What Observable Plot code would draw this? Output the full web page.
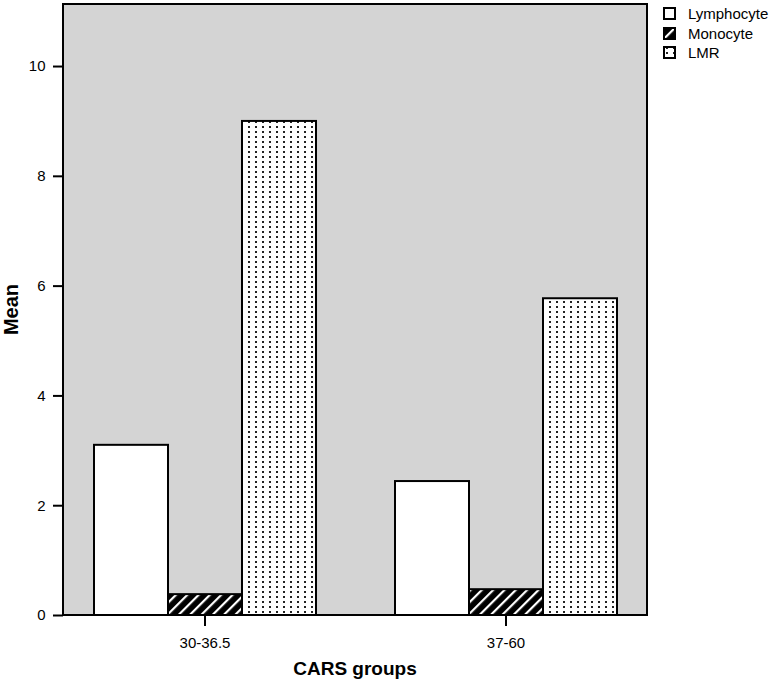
<!DOCTYPE html>
<html>
<head>
<meta charset="utf-8">
<script src="https://cdn.jsdelivr.net/npm/d3@7"></script>
<script src="https://cdn.jsdelivr.net/npm/@observablehq/plot@0.6"></script>
<style>
  html, body { margin: 0; padding: 0; background: #fff; }
  #wrap { position: relative; width: 774px; height: 684px; font-family: Arial, "Liberation Sans", sans-serif; }
  #legend { position: absolute; left: 663px; top: 4px; font-size: 15px; color: #000; }
  #legend .row { display: flex; align-items: center; height: 19.5px; }
  #legend svg { display: block; margin-right: 12px; }
</style>
</head>
<body>
<div id="wrap"><div id="legend"></div></div>
<script>
// ---- data ----
const groups = ["30-36.5", "37-60"];
const series = ["Lymphocyte", "Monocyte", "LMR"];
const lymphocyte = [3.10, 2.44];
const monocyte = [0.38, 0.47];
const lmr = [9.00, 5.77];
const yTicks = [0, 2, 4, 6, 8, 10];
const yMax = 11.13;

const seriesValues = { Lymphocyte: lymphocyte, Monocyte: monocyte, LMR: lmr };
const fills = ["#ffffff", "url(#hatch)", "url(#dots)"];

const data = [];
groups.forEach((g, i) => {
  series.forEach(s => data.push({ group: g, series: s, value: seriesValues[s][i] }));
});

const W = 774, H = 684;
const mL = 63, mR = 127, mT = 4, mB = 69;

const chart = Plot.plot({
  width: W,
  height: H,
  marginLeft: mL,
  marginRight: mR,
  marginTop: mT,
  marginBottom: mB,
  style: { fontFamily: "Arial, 'Liberation Sans', sans-serif", color: "#000", background: "transparent", fontSize: "15px" },
  fx: { domain: groups, paddingInner: 0.06, paddingOuter: 0, label: null, axis: null },
  x: { domain: series, paddingInner: 0, paddingOuter: 0.387, axis: null },
  y: { domain: [0, yMax], ticks: yTicks, label: null, axis: null },
  color: { domain: series, range: fills },
  marks: [
    Plot.barY(data, { fx: "group", x: "series", y: "value", fill: "series", stroke: "#000", strokeWidth: 2 }),
    Plot.axisY({ ticks: yTicks, tickSize: 10, tickPadding: 8, label: null, fontSize: 15, strokeWidth: 2 }),
    Plot.axisFx({ anchor: "bottom", tickSize: 11, tickPadding: 11, label: null, fontSize: 15, strokeWidth: 2 })
  ]
});

const svg = d3.select(chart);
svg.selectAll("text").style("font-size", "15px").attr("fill", "#000");
// pattern defs
const defs = svg.insert("defs", ":first-child");
const hatch = defs.append("pattern").attr("id", "hatch").attr("patternUnits", "userSpaceOnUse")
  .attr("width", 8).attr("height", 8).attr("patternTransform", "rotate(45)");
hatch.append("rect").attr("width", 8).attr("height", 8).attr("fill", "#000");
hatch.append("rect").attr("x", 0).attr("y", 0).attr("width", 2.2).attr("height", 8).attr("fill", "#fff");
const dots = defs.append("pattern").attr("id", "dots").attr("patternUnits", "userSpaceOnUse")
  .attr("width", 7).attr("height", 5);
dots.append("rect").attr("width", 7).attr("height", 5).attr("fill", "#fff");
dots.append("rect").attr("x", 3).attr("y", 1).attr("width", 2).attr("height", 2).attr("fill", "#222");

// background panel
svg.insert("rect", "defs + *")
  .attr("x", mL).attr("y", mT).attr("width", W - mL - mR).attr("height", H - mT - mB)
  .attr("fill", "#d4d4d4");
// frame
svg.append("rect")
  .attr("x", mL).attr("y", mT).attr("width", W - mL - mR).attr("height", H - mT - mB)
  .attr("fill", "none").attr("stroke", "#000").attr("stroke-width", 2);
// axis titles
svg.append("text").text("CARS groups")
  .attr("x", mL + (W - mL - mR) / 2).attr("y", 668).attr("dy", "0.35em")
  .attr("text-anchor", "middle").style("font-weight", "bold").style("font-size", "19px");
svg.append("text").text("Mean")
  .attr("transform", `translate(11,${mT + (H - mT - mB) / 2}) rotate(-90)`).attr("dy", "0.35em")
  .attr("text-anchor", "middle").style("font-weight", "bold").style("font-size", "20px");

document.getElementById("wrap").prepend(chart);

// legend
const legend = d3.select("#legend");
series.forEach((s, i) => {
  const row = legend.append("div").attr("class", "row");
  const sw = row.append("svg").attr("width", 13).attr("height", 13);
  sw.append("rect").attr("x", 1).attr("y", 1).attr("width", 11).attr("height", 11)
    .attr("fill", fills[i]).attr("stroke", "#000").attr("stroke-width", 2);
  row.append("span").text(s);
});
</script>
</body>
</html>
